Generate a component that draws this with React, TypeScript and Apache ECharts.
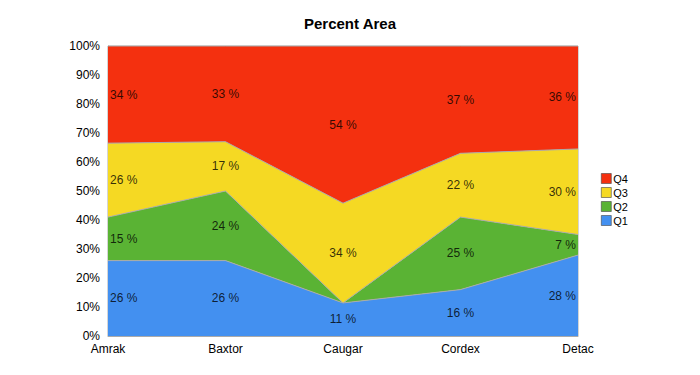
import React, { useEffect, useRef } from "react";
import * as echarts from "echarts";

const categories = ["Amrak", "Baxtor", "Caugar", "Cordex", "Detac"];
const q1 = [26, 26, 11.4, 16, 27.9];
const q2 = [15, 24, 0, 25, 7.1];
const q3 = [25.5, 17, 34.4, 22, 29.5];
const q4 = [33.5, 33, 54.2, 37, 35.5];
const seriesNames = ["Q1", "Q2", "Q3", "Q4"];
const seriesValues = [q1, q2, q3, q4];
const colors = ["#4390f0", "#5ab334", "#f5d923", "#f4300f"];
const yTicks = [0, 10, 20, 30, 40, 50, 60, 70, 80, 90, 100];

export default function App() {
  const ref = useRef<HTMLDivElement>(null);
  useEffect(() => {
    if (!ref.current) return;
    const chart = echarts.init(ref.current, null, { renderer: "svg" });
    const font = "Liberation Sans, Arial, sans-serif";
    const areaSeries = seriesNames.map((name, i) => ({
      name,
      type: "line",
      stack: "total",
      data: seriesValues[i],
      symbol: "none",
      color: colors[i],
      itemStyle: { color: colors[i] },
      lineStyle: { color: "#aaaaaa", width: 1 },
      areaStyle: { color: colors[i], opacity: 1 },
      z: 2,
    }));
    const labelSeries = seriesNames.map((name, i) => ({
      name: "lab" + name,
      type: "scatter",
      symbolSize: 0,
      silent: true,
      z: 5,
      data: categories.map((c, j) => {
        let below = 0;
        for (let k = 0; k < i; k++) below += seriesValues[k][j];
        const v = seriesValues[i][j];
        const last = j === categories.length - 1;
        return {
          value: [c, below + v / 2],
          label: {
            show: v >= 3,
            formatter: Math.round(v) + " %",
            position: j === 0 ? "right" : last ? "left" : "inside",
            distance: 2,
            align: j === 0 ? "left" : last ? "right" : "center",
            color: "#000",
            fontSize: 12,
            fontFamily: font,
          },
        };
      }),
    }));
    chart.setOption({
      animation: false,
      title: {
        text: "Percent Area",
        left: "center",
        top: 11,
        textStyle: { fontSize: 15, fontWeight: "bold", fontFamily: font, color: "#000" },
      },
      legend: {
        data: ["Q4", "Q3", "Q2", "Q1"],
        orient: "vertical",
        left: 596,
        top: 168,
        icon: "rect",
        itemWidth: 10,
        itemHeight: 10,
        itemGap: 3,
        textStyle: { fontSize: 11, fontFamily: font, color: "#000", padding: [0, 0, 0, -3] },
        itemStyle: { borderColor: "#444", borderWidth: 0.6 },
      },
      grid: {
        left: 108,
        right: 122,
        top: 46,
        bottom: 39,
        show: true,
        borderColor: "#aaaaaa",
        borderWidth: 1,
      },
      xAxis: {
        type: "category",
        data: categories,
        boundaryGap: false,
        axisLine: { lineStyle: { color: "#aaaaaa" } },
        axisTick: { show: false },
        axisLabel: { color: "#000", fontSize: 12, fontFamily: font, margin: 7 },
      },
      yAxis: {
        type: "value",
        min: yTicks[0],
        max: yTicks[yTicks.length - 1],
        interval: 10,
        axisLine: { show: true, lineStyle: { color: "#aaaaaa" } },
        axisTick: { show: false },
        splitLine: { show: false },
        axisLabel: { color: "#000", fontSize: 12, fontFamily: font, formatter: "{value}%", margin: 8 },
      },
      series: [...areaSeries, ...labelSeries],
    });
    return () => chart.dispose();
  }, []);
  return <div ref={ref} style={{ width: 700, height: 375, position: "absolute", left: 0, top: 0 }} />;
}
